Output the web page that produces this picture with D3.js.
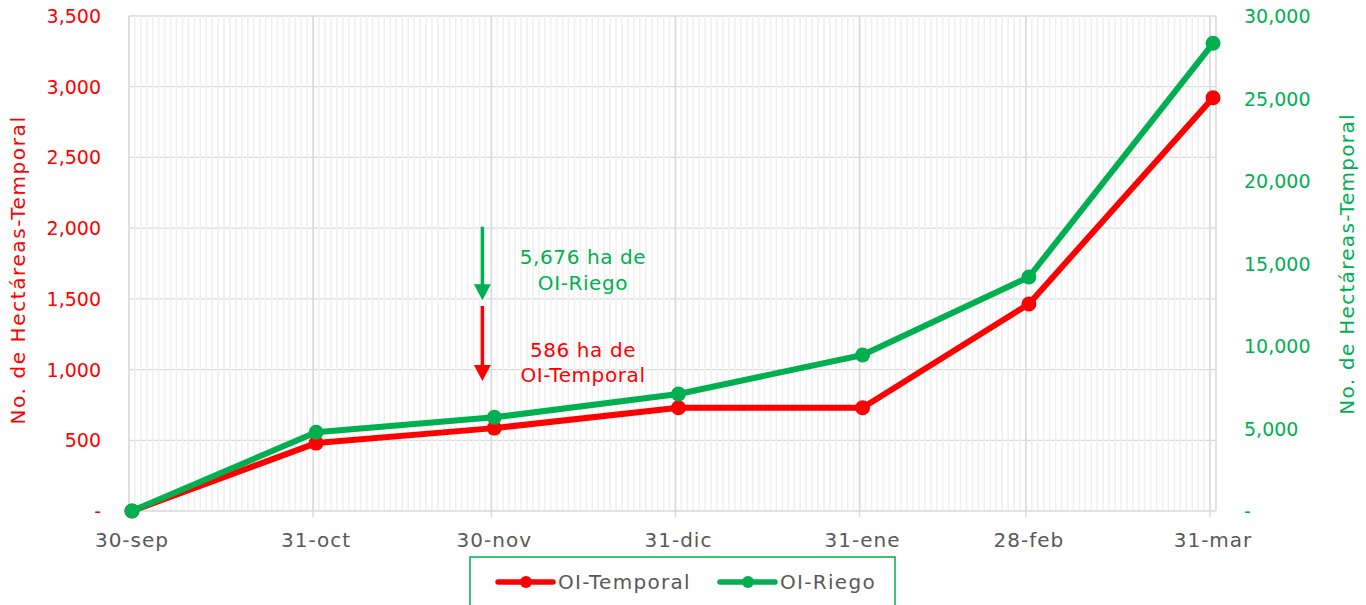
<html>
<head>
<meta charset="utf-8">
<script src="https://d3js.org/d3.v7.min.js"></script>
<style>
    body { margin: 0; background: #fff; }
    text { font-family: "DejaVu Sans", sans-serif; }
</style>
</head>
<body>
<svg id="visual" width="1366" height="605"></svg>
<script>
    // datos
    const fechas = ["2022-09-30", "2022-10-31", "2022-11-30", "2022-12-31", "2023-01-31", "2023-02-28", "2023-03-31"];
    const etiquetas = ["30-sep", "31-oct", "30-nov", "31-dic", "31-ene", "28-feb", "31-mar"];
    const temporal = [0, 480, 586, 730, 730, 1464, 2922];
    const riego = [0, 4770, 5676, 7090, 9455, 14182, 28345];
    const ticksIzq = [0, 500, 1000, 1500, 2000, 2500, 3000, 3500];
    const ticksDer = [0, 5000, 10000, 15000, 20000, 25000, 30000];

    const ROJO = "#FF0000", VERDE = "#00B050", GRIS = "#595959";

    const parse = d3.timeParse("%Y-%m-%d");
    const dias = fechas.map(parse);

    var svg = d3.select("svg");
    var mIzq = 129, mDer = 1216, mSup = 16, mInf = 511;

    var x = d3.scaleTime()
        .domain([dias[0], d3.timeDay.offset(dias[dias.length - 1], 1)])
        .range([mIzq, mDer]);
    var centro = d => x(d3.timeHour.offset(d, 12));

    var yL = d3.scaleLinear().domain([0, 3500]).range([mInf, mSup]);
    var yR = d3.scaleLinear().domain([0, 30000]).range([mInf, mSup]);

    var fmt = d => d == 0 ? "-" : d3.format(",")(d);

    // gridlines horizontales
    svg.append("g").selectAll("line")
        .data(ticksIzq.slice(1))
        .enter().append("line")
        .attr("x1", mIzq).attr("x2", mDer)
        .attr("y1", d => yL(d)).attr("y2", d => yL(d))
        .attr("stroke", "#d9d9d9").attr("stroke-width", 1.3);

    // gridlines menores (un dia)
    svg.append("g").selectAll("line")
        .data(d3.timeDay.range(dias[0], d3.timeDay.offset(dias[dias.length - 1], 1)))
        .enter().append("line")
        .attr("x1", d => x(d)).attr("x2", d => x(d))
        .attr("y1", mSup).attr("y2", mInf)
        .attr("stroke", "#f0f0f0").attr("stroke-width", 1.6);

    // gridlines mayores
    svg.append("g").selectAll("line")
        .data(dias)
        .enter().append("line")
        .attr("x1", d => x(d)).attr("x2", d => x(d))
        .attr("y1", mSup).attr("y2", mInf + 6)
        .attr("stroke", "#d9d9d9").attr("stroke-width", 1.5);

    svg.append("line")
        .attr("x1", mDer).attr("x2", mDer).attr("y1", mSup).attr("y2", mInf)
        .attr("stroke", "#d9d9d9").attr("stroke-width", 1.5);
    svg.append("line")
        .attr("x1", mIzq).attr("x2", mDer).attr("y1", mInf).attr("y2", mInf)
        .attr("stroke", "#d9d9d9").attr("stroke-width", 1.5);

    // etiquetas eje x
    svg.append("g").selectAll("text")
        .data(dias)
        .enter().append("text")
        .attr("x", d => centro(d))
        .attr("y", 540)
        .attr("text-anchor", "middle")
        .attr("dominant-baseline", "central")
        .attr("fill", GRIS)
        .style("font-size", "20px")
        .style("letter-spacing", "1px")
        .text((d, i) => etiquetas[i]);

    // eje izquierdo
    svg.append("g").selectAll("text")
        .data(ticksIzq)
        .enter().append("text")
        .attr("x", 101)
        .attr("y", d => yL(d))
        .attr("text-anchor", "end")
        .attr("dominant-baseline", "central")
        .attr("fill", ROJO)
        .style("font-size", "19px")
        .text(fmt);

    // eje derecho
    svg.append("g").selectAll("text")
        .data(ticksDer)
        .enter().append("text")
        .attr("x", 1244)
        .attr("y", d => yR(d))
        .attr("text-anchor", "start")
        .attr("dominant-baseline", "central")
        .attr("fill", VERDE)
        .style("font-size", "19px")
        .text(fmt);

    svg.append("text")
        .attr("transform", "translate(18,270) rotate(-90)")
        .attr("text-anchor", "middle")
        .attr("dominant-baseline", "central")
        .attr("fill", ROJO)
        .style("font-size", "20px")
        .style("letter-spacing", "1.6px")
        .text("No. de Hectáreas-Temporal");

    svg.append("text")
        .attr("transform", "translate(1347,264) rotate(-90)")
        .attr("text-anchor", "middle")
        .attr("dominant-baseline", "central")
        .attr("fill", VERDE)
        .style("font-size", "20px")
        .style("letter-spacing", "1.3px")
        .text("No. de Hectáreas-Temporal");

    // series
    var series = [
        { nombre: "OI-Temporal", valores: temporal, y: yL, color: ROJO },
        { nombre: "OI-Riego", valores: riego, y: yR, color: VERDE }
    ];

    series.forEach(function (s) {
        var linea = d3.line()
            .x((d, i) => centro(dias[i]))
            .y(d => s.y(d));
        svg.append("path")
            .datum(s.valores)
            .attr("d", linea)
            .attr("fill", "none")
            .attr("stroke", s.color)
            .attr("stroke-width", 6)
            .attr("stroke-linejoin", "round");
        svg.append("g").selectAll("circle")
            .data(s.valores)
            .enter().append("circle")
            .attr("cx", (d, i) => centro(dias[i]))
            .attr("cy", d => s.y(d))
            .attr("r", 7.5)
            .attr("fill", s.color);
    });

    // anotaciones (flechas)
    var flechas = [
        { fecha: "2022-11-29", desde: 2010, hasta: 1490, color: VERDE },
        { fecha: "2022-11-29", desde: 1450, hasta: 920, color: ROJO }
    ];
    flechas.forEach(function (f) {
        var fx = x(parse(f.fecha)) - 3, y0 = yL(f.desde), y1 = yL(f.hasta);
        svg.append("line")
            .attr("x1", fx).attr("x2", fx)
            .attr("y1", y0).attr("y2", y1 - 14)
            .attr("stroke", f.color).attr("stroke-width", 3.5);
        svg.append("path")
            .attr("d", "M" + (fx - 8.5) + "," + (y1 - 16) + "L" + (fx + 8.5) + "," + (y1 - 16) + "L" + fx + "," + y1 + "Z")
            .attr("fill", f.color);
    });

    var notas = [
        { t: "5,676 ha de", y: 257, c: VERDE },
        { t: "OI-Riego", y: 283, c: VERDE },
        { t: "586 ha de", y: 350, c: ROJO },
        { t: "OI-Temporal", y: 375, c: ROJO }
    ];
    svg.append("g").selectAll("text")
        .data(notas)
        .enter().append("text")
        .attr("x", 583)
        .attr("y", d => d.y)
        .attr("text-anchor", "middle")
        .attr("dominant-baseline", "central")
        .attr("fill", d => d.c)
        .style("font-size", "20px")
        .style("letter-spacing", "0.6px")
        .text(d => d.t);

    // leyenda
    svg.append("rect")
        .attr("x", 470).attr("y", 557)
        .attr("width", 425).attr("height", 60)
        .attr("fill", "white")
        .attr("stroke", VERDE).attr("stroke-width", 1.5);

    var leyX = [498, 720];
    series.forEach(function (s, i) {
        var g = svg.append("g").attr("transform", "translate(" + leyX[i] + ",582)");
        g.append("line").attr("x1", 0).attr("x2", 55)
            .attr("stroke", s.color).attr("stroke-width", 5.5).attr("stroke-linecap", "round");
        g.append("circle").attr("cx", 28).attr("r", 6).attr("fill", s.color);
        g.append("text")
            .attr("x", 60)
            .attr("dominant-baseline", "central")
            .attr("fill", GRIS)
            .style("font-size", "20px")
            .style("letter-spacing", "1.3px")
            .text(s.nombre);
    });
</script>
</body>
</html>
